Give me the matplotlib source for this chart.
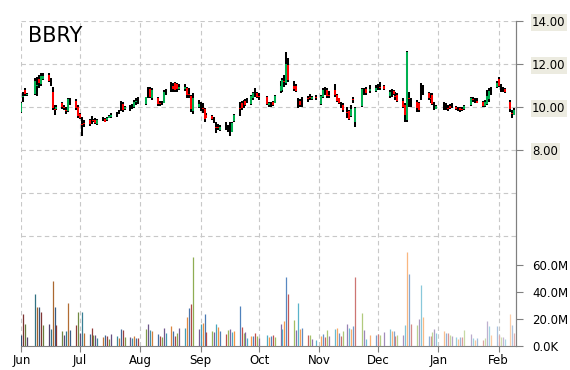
import numpy as np
import matplotlib.pyplot as plt
import matplotlib.dates as mdates
from matplotlib.colors import to_rgb

# trading days, counted from 2014-06-01
day = [0, 1, 2, 3, 7, 8, 9, 10, 11, 14, 15, 16, 17, 18, 21, 22, 23, 24, 25, 28, 29, 30, 31, 32,
       35, 36, 37, 38, 39, 42, 43, 44, 45, 46, 49, 50, 51, 52, 53, 56, 57, 58, 59, 60,
       64, 65, 66, 67, 70, 71, 72, 73, 74, 77, 78, 79, 80, 81, 84, 85, 86, 87, 88, 91,
       92, 93, 94, 95, 98, 99, 100, 101, 102, 105, 106, 107, 108, 109, 112, 113, 114, 115, 116,
       118, 119, 120, 121, 122,
       126, 127, 128, 129, 130, 133, 134, 135, 136, 137, 140, 141, 142, 143, 144, 147, 148, 149, 151,
       154, 155, 156, 157, 158, 161, 162, 163, 164, 165, 167, 168, 169, 170, 171, 175, 176, 177, 179, 182,
       183, 184,
       186, 189, 190, 191, 192, 193, 196, 197, 198, 199, 200, 203, 204, 205, 206, 209, 210, 211, 212, 213,
       217, 218, 219, 220, 221, 223, 224, 225, 226, 227, 231, 232, 233, 234, 237, 238, 239, 240, 241,
       244, 245, 246, 247, 248, 251, 252, 253]

open_ = [9.78, 10.45, 10.78, 10.55, 10.60, 11.00, 11.30, 11.05, 11.30, 11.50, 11.15, 10.70, 9.90, 9.92,
         10.20, 9.98, 9.85, 9.82, 10.30, 10.30, 10.00, 9.68, 9.20, 9.25,
         9.40, 9.35, 9.38, 9.40, 9.22, 9.45, 9.45, 9.38, 9.50, 9.55, 9.68, 9.78, 10.05, 10.15, 9.90,
         9.95, 10.05, 10.00, 10.25, 10.30,
         10.12, 10.70, 10.85, 10.40, 10.42, 10.18, 10.20, 10.20, 10.70, 10.95, 11.00, 11.10, 11.05, 10.85,
         10.85, 10.90, 10.60, 10.50, 9.80, 10.00,
         10.00, 9.95, 9.90, 9.65, 9.60, 9.40, 9.05, 9.05, 8.92, 9.12, 9.00, 8.95, 8.85, 9.35,
         9.95, 10.20, 10.15, 10.30, 10.30, 10.15, 10.40, 10.70, 10.65, 10.50,
         10.45, 10.08, 10.15, 10.25, 10.20, 10.75, 10.80, 11.20, 11.10, 11.95, 11.00, 11.00, 10.20, 10.30,
         10.25, 10.40, 10.45, 10.38, 10.45,
         10.15, 10.45, 10.75, 10.80, 10.55, 10.80, 10.55, 10.40, 10.10, 10.10, 9.75, 9.80, 9.60, 10.35,
         9.30, 10.05, 10.70, 10.85, 10.75, 10.75, 10.90, 10.92,
         11.00, 10.50, 10.65, 10.75, 10.50, 10.55, 10.30, 10.10, 9.40, 10.40, 10.20, 10.25, 10.20, 10.70,
         10.80, 10.65, 10.40, 10.55, 10.05, 9.92,
         10.05, 10.00, 9.95, 10.05, 10.05, 10.00, 9.92, 9.95, 9.90, 9.90, 10.10, 10.35, 10.30, 10.30,
         10.25, 10.05, 10.15, 10.35, 10.75,
         10.95, 11.30, 10.90, 10.85, 10.85, 10.25, 9.70, 9.65]

high = [10.22, 10.71, 10.87, 10.64, 11.33, 11.41, 11.50, 11.60, 11.60, 11.60, 11.33, 10.95, 10.09, 10.09,
        10.25, 10.09, 9.98, 10.40, 10.40, 10.37, 10.09, 9.70, 9.55, 9.40,
        9.44, 9.60, 9.44, 9.47, 9.44, 9.55, 9.50, 9.55, 9.63, 9.70, 9.78, 9.86, 10.28, 10.22, 10.06,
        10.09, 10.16, 10.33, 10.40, 10.45,
        10.48, 10.95, 10.91, 10.87, 10.48, 10.28, 10.28, 10.79, 10.84, 11.18, 11.10, 11.15, 11.10, 11.05,
        11.05, 10.95, 10.87, 10.56, 10.64, 10.33,
        10.25, 10.17, 9.94, 9.70, 9.63, 9.55, 9.29, 9.19, 9.16, 9.32, 9.16, 9.29, 9.32, 9.67,
        10.25, 10.28, 10.33, 10.36, 10.40, 10.56, 10.71, 10.87, 10.71, 10.64,
        10.53, 10.25, 10.25, 10.28, 10.56, 11.21, 11.33, 11.49, 12.54, 12.26, 11.21, 11.05, 10.40, 10.37,
        10.48, 10.53, 10.59, 10.50, 10.56,
        10.56, 10.87, 10.95, 10.87, 10.74, 11.05, 10.59, 10.43, 10.25, 10.17, 9.98, 9.86, 10.09, 10.48,
        9.98, 10.87, 10.87, 10.95, 11.02, 11.02, 11.05, 11.15,
        11.02, 10.79, 10.84, 10.79, 10.71, 10.64, 10.40, 10.17, 12.60, 10.71, 10.40, 10.33, 10.25, 11.10,
        11.02, 10.71, 10.64, 10.64, 10.25, 10.09,
        10.22, 10.17, 10.09, 10.12, 10.17, 10.06, 9.98, 9.98, 10.00, 10.09, 10.48, 10.48, 10.43, 10.40,
        10.28, 10.33, 10.79, 10.87, 10.95,
        11.21, 11.41, 11.05, 10.95, 10.90, 10.33, 9.86, 9.94]

low = [9.74, 10.25, 10.53, 10.53, 10.56, 10.53, 10.87, 11.00, 11.25, 11.18, 11.00, 9.86, 9.63, 9.86,
       9.90, 9.86, 9.67, 9.78, 10.09, 9.86, 9.47, 9.44, 8.67, 9.09,
       9.13, 9.20, 9.29, 9.19, 9.16, 9.35, 9.29, 9.35, 9.47, 9.50, 9.55, 9.66, 9.83, 9.78, 9.86,
       9.83, 9.90, 9.97, 10.09, 10.15,
       10.09, 10.40, 10.40, 10.33, 10.06, 10.06, 10.09, 10.17, 10.56, 10.71, 10.71, 10.68, 10.71, 10.79,
       10.74, 10.40, 10.40, 9.78, 9.66, 9.94,
       9.81, 9.70, 9.32, 9.47, 9.40, 9.24, 8.78, 8.93, 8.88, 8.93, 8.85, 8.65, 8.82, 9.32,
       9.60, 9.86, 9.94, 10.06, 10.17, 10.09, 10.33, 10.48, 10.40, 10.33,
       10.09, 10.02, 10.02, 10.05, 10.17, 10.64, 10.71, 10.95, 11.02, 11.18, 10.74, 10.71, 9.97, 10.02,
       10.02, 10.22, 10.33, 10.33, 10.33,
       10.09, 10.40, 10.56, 10.43, 10.40, 10.48, 10.25, 10.12, 9.94, 9.78, 9.47, 9.40, 9.55, 10.17,
       9.09, 10.02, 10.56, 10.56, 10.64, 10.71, 10.79, 10.79,
       10.79, 10.40, 10.48, 10.56, 10.33, 10.25, 9.94, 9.32, 9.32, 10.02, 10.02, 9.78, 9.78, 10.33,
       10.56, 10.33, 10.17, 10.09, 9.86, 9.90,
       9.84, 9.86, 9.81, 9.90, 9.94, 9.86, 9.83, 9.78, 9.81, 9.86, 10.06, 10.25, 10.17, 10.17,
       10.02, 10.02, 10.09, 10.25, 10.56,
       10.87, 10.95, 10.71, 10.71, 10.64, 9.78, 9.47, 9.63]

close = [10.20, 10.50, 10.62, 10.62, 11.20, 11.02, 11.10, 11.45, 11.45, 11.20, 11.17, 9.95, 9.88, 10.00,
         10.00, 9.96, 9.83, 10.35, 10.28, 9.95, 9.60, 9.50, 9.18, 9.23,
         9.20, 9.37, 9.36, 9.25, 9.40, 9.43, 9.32, 9.50, 9.60, 9.65, 9.66, 9.76, 10.03, 9.85, 10.00,
         9.97, 10.03, 10.25, 10.27, 10.28,
         10.45, 10.68, 10.45, 10.80, 10.15, 10.16, 10.18, 10.70, 10.68, 10.93, 10.85, 10.80, 10.85, 10.95,
         10.95, 10.55, 10.58, 9.90, 10.40, 10.15,
         9.98, 9.93, 9.45, 9.50, 9.45, 9.38, 9.03, 9.03, 9.05, 9.10, 8.98, 8.93, 9.25, 9.62,
         9.93, 9.95, 10.13, 10.10, 10.28, 10.50, 10.65, 10.68, 10.45, 10.48,
         10.15, 10.20, 10.13, 10.10, 10.50, 11.00, 11.25, 11.18, 12.00, 11.25, 10.85, 10.75, 10.18, 10.10,
         10.23, 10.38, 10.43, 10.45, 10.43,
         10.50, 10.80, 10.73, 10.50, 10.53, 10.55, 10.30, 10.20, 10.08, 9.85, 9.73, 9.45, 9.90, 10.33,
         9.95, 10.85, 10.68, 10.65, 10.85, 10.90, 10.88, 10.90,
         10.82, 10.70, 10.63, 10.60, 10.48, 10.30, 10.00, 9.65, 12.55, 10.38, 10.18, 9.95, 9.85, 10.68,
         10.78, 10.40, 10.38, 10.15, 10.03, 10.05,
         10.03, 9.98, 9.93, 9.95, 10.03, 9.90, 9.90, 9.85, 9.88, 10.05, 10.40, 10.33, 10.28, 10.20,
         10.05, 10.25, 10.50, 10.75, 10.73,
         11.10, 11.00, 10.88, 10.83, 10.70, 9.90, 9.68, 9.85]

# volume in millions
volume = [8, 24, 16, 6.4, 38.5, 28.6, 28.6, 25, 15.5, 16, 12.6, 48, 28.6, 15.5,
          11, 8, 11, 32, 12, 15.5, 25, 10, 25, 10,
          9, 13.3, 8, 8, 6, 6.7, 8, 7.4, 5.4, 9, 7.4, 6, 12.8, 12, 6.7,
          6.7, 6, 7.4, 6, 6,
          12.6, 16.3, 12, 11, 9, 7.4, 6.7, 13.3, 9.6, 14.8, 11, 7.4, 10, 13.3,
          13.3, 21.5, 28, 31, 66, 12.6,
          16.5, 17, 23.7, 10.4, 11, 10.4, 16.3, 14, 11, 9, 12, 12.6, 10.4, 11,
          29.6, 14, 9.6, 10.4, 6, 7.4, 7.4, 9.6, 7.4, 6,
          8.1, 7, 7.4, 8.1, 6.7, 16.3, 12.6, 18.5, 51, 38.5, 19.3, 12, 32, 12.6,
          13.3, 8.1, 8.1, 5.2, 4.4,
          7.4, 9, 6.7, 12, 7.4, 12.6, 13.3, 9.6, 7.4, 11, 16.3, 13.3, 12.6, 14.8,
          51, 24.4, 12, 5.2, 8.1, 8.1, 9, 8.1,
          10.4, 12.6, 11, 11, 7.4, 8.1, 8.1, 15.5, 69.6, 53.3, 16.3, 15.5, 20, 45,
          21.5, 7.4, 7.4, 10.4, 12.6, 9.6,
          11, 9.6, 9.6, 8.1, 7.4, 6.7, 5.2, 6.7, 6.7, 12, 9, 6, 4.4, 6,
          4.4, 6, 18.5, 14.8, 8.1,
          14.8, 8.1, 6.7, 6.7, 5, 23.7, 15.5, 10]

price_ticks = [8, 10, 12, 14]
price_labels = ['8.00', '10.00', '12.00', '14.00']
vol_ticks = [0, 20, 40, 60]
vol_labels = ['0.0K', '20.0M', '40.0M', '60.0M']
palette = ['#4F81BD', '#C0504D', '#9BBB59', '#8064A2', '#4BACC6', '#F79646']

start = mdates.date2num(np.datetime64('2014-06-01'))
x = start + np.array(day, dtype=float)
o = np.array(open_)
c = np.array(close)
n = len(day)

fig = plt.figure(figsize=(5.7, 3.7), dpi=100)
ax = fig.add_axes([21 / 570, 1 - 346 / 370, 494.5 / 570, 325 / 370])
axv = ax.twinx()
ax.set_xlim(start - 0.2, start + 253.6)
ax.set_ylim(14 - 325 / 21.5, 14)

grid_kw = dict(color='#c8c8c8', lw=0.8, dashes=(4, 3), zorder=0)
for p in [4, 6, 8, 10, 12, 14]:
    ax.axhline(p, **grid_kw)
ax.xaxis_date()
ax.xaxis.set_major_locator(mdates.MonthLocator())
ax.xaxis.set_major_formatter(mdates.DateFormatter('%b'))
for t in ax.get_xticks():
    ax.axvline(t, **grid_kw)

# candles: black wick, coloured body
ax.vlines(x, low, high, color='black', lw=1.45, zorder=3)
body_col = np.where(c >= o, '#00b050', '#ff0000')
ax.vlines(x, o, c, color=body_col, lw=1.45, zorder=4)

ax.set_yticks(price_ticks)
ax.set_yticklabels(price_labels)
ax.yaxis.tick_right()
ax.yaxis.set_label_position('right')
ax.tick_params(axis='y', left=False, labelleft=False, right=True, labelright=True,
               length=5, color='#808080', labelsize=8.5, pad=7)
ax.tick_params(axis='x', length=4, color='#808080', labelsize=8.5, pad=2)
for lab in ax.get_yticklabels():
    lab.set_bbox(dict(facecolor='#ecebe0', edgecolor='none', pad=1.2))
for s in ['top', 'left']:
    ax.spines[s].set_visible(False)
for s in ['right', 'bottom']:
    ax.spines[s].set_color('#808080')

# volume on twin axis
axv.set_ylim(0, 60 * 325 / 81)
cols = []
for i in range(n):
    rgb = np.array(to_rgb(palette[i % 6]))
    t = i / (n - 1)
    if t < 0.45:
        rgb = rgb * (1 - (0.45 - t) * 0.8)
    elif t > 0.5:
        rgb = rgb + (1 - rgb) * (t - 0.5) * 1.1
    cols.append(tuple(rgb))
axv.vlines(x, 0, volume, color=cols, lw=0.9, zorder=3)
axv.set_yticks(vol_ticks)
axv.set_yticklabels(vol_labels)
axv.tick_params(axis='y', length=5, color='#808080', labelsize=8.5, pad=7)
for s in ['top', 'left', 'bottom']:
    axv.spines[s].set_visible(False)
axv.spines['right'].set_color('#808080')

ax.text(0.014, 0.985, 'BBRY', transform=ax.transAxes, fontsize=15, va='top', ha='left')

fig.savefig('out.png', dpi=100)
